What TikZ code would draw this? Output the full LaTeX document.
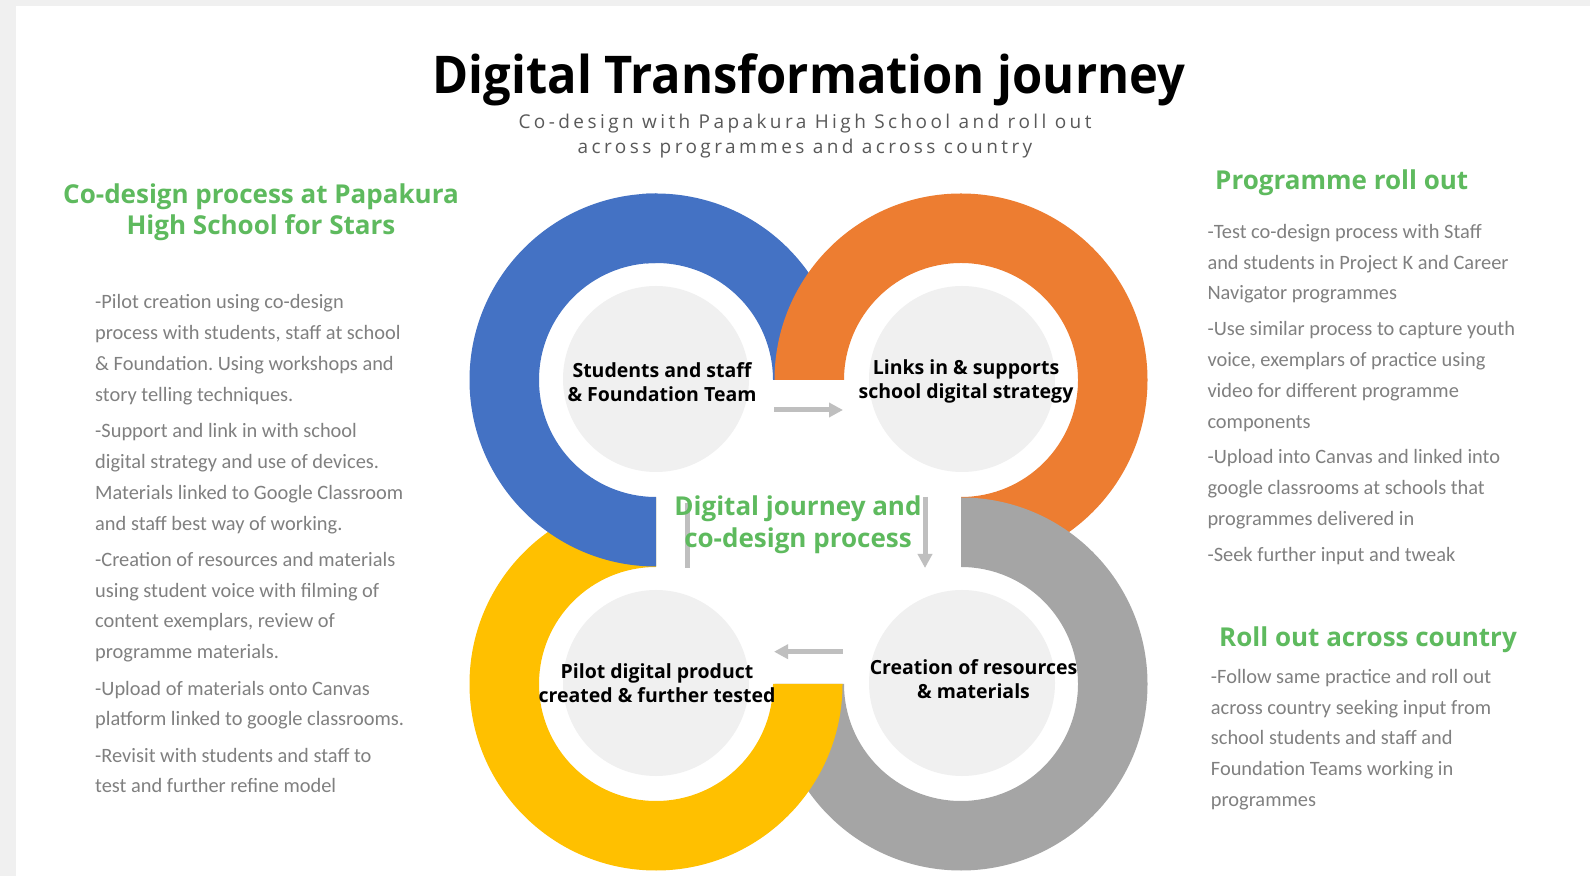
\documentclass[tikz,border=0pt]{standalone}
\usepackage{fontspec}
\setmainfont{Carlito}
\newfontfamily\headsans{Open Sans}
\newfontfamily\titlesans[FakeStretch=0.94]{Open Sans}
\newfontfamily\subsans[LetterSpace=18]{Open Sans}
\usetikzlibrary{arrows.meta,calc}
\frenchspacing

\definecolor{pageedge}{HTML}{F0F0F0}
\definecolor{ringblue}{HTML}{4472C4}
\definecolor{ringorange}{HTML}{ED7D31}
\definecolor{ringgray}{HTML}{A5A5A5}
\definecolor{ringyellow}{HTML}{FFC000}
\definecolor{diskgray}{HTML}{F0F0F0}
\definecolor{arrowgray}{HTML}{BFBFBF}
\definecolor{headgreen}{RGB}{94,186,94}
\definecolor{bodygray}{HTML}{808080}
\definecolor{subgray}{HTML}{595959}

% annular sector: centre, start angle, end angle, colour
\newcommand\ringsector[4]{%
  \fill[#4] ([shift={(#2:186.5bp)}]#1) arc[start angle=#2,end angle=#3,radius=186.5bp]
    -- ([shift={(#3:117bp)}]#1) arc[start angle=#3,end angle=#2,radius=117bp] -- cycle;}

\begin{document}
\begin{tikzpicture}[x=1bp,y=1bp,
  disk/.style={circle,fill=diskgray,minimum size=186bp,inner sep=0pt},
  flow/.style={draw=arrowgray,line width=5bp,-{Triangle[length=14bp,width=14bp]}},
  flowline/.style={draw=arrowgray,line width=5bp},
  steplabel/.style={font=\headsans\bfseries\fontsize{19.5bp}{24bp}\selectfont,
    inner sep=0pt,anchor=base,text=black},
  greenhead/.style={font=\headsans\bfseries\fontsize{26bp}{31.7bp}\selectfont,
    text=headgreen,inner sep=0pt},
  bodytext/.style={font=\fontsize{20.4bp}{30.8bp}\selectfont,
    text=bodygray,inner sep=0pt,anchor=base west},
]
\useasboundingbox (0,0) rectangle (1590,876);
\fill[pageedge] (0,0) rectangle (1590,876);
\fill[white] (16,0) rectangle (1590,870);

% ring centres
\coordinate (cB) at (656,496);
\coordinate (cO) at (961,496);
\coordinate (cY) at (656,192);
\coordinate (cG) at (961,192);

% interlocking rings (blue split in two so each ring tucks under the next)
\ringsector{cB}{0}{95}{ringblue}
\ringsector{cO}{-90}{180}{ringorange}
\ringsector{cG}{-180}{90}{ringgray}
\ringsector{cY}{90}{360}{ringyellow}
\ringsector{cB}{90}{270}{ringblue}

% inner discs
\node[disk] (dB) at (656,497) {};
\node[disk] (dO) at (962,497) {};
\node[disk] (dY) at (656,193) {};
\node[disk] (dG) at (962,193) {};

% flow arrows between the stages
\coordinate (f1s) at (774,466);   \coordinate (f1e) at (843,466);
\coordinate (f2s) at (925,379);   \coordinate (f2e) at (925,308);
\coordinate (f3s) at (842.7,224.3); \coordinate (f3e) at (774,224.3);
\coordinate (f4s) at (687,308);   \coordinate (f4e) at (687,373);
\draw[flow] (f1s) -- (f1e);
\draw[flow] (f2s) -- (f2e);
\draw[flow] (f3s) -- (f3e);
\draw[flowline] (f4s) -- (f4e);

% stage labels
\node[steplabel] (lB) at (662,498.3) {\begin{tabular}[t]{@{}c@{}}Students and staff\\ \& Foundation Team\end{tabular}};
\node[steplabel] (lO) at (966,501.5) {\begin{tabular}[t]{@{}c@{}}Links in \& supports\\ school digital strategy\end{tabular}};
\node[steplabel] (lY) at (657,197.1) {\begin{tabular}[t]{@{}c@{}}Pilot digital product\\ created \& further tested\end{tabular}};
\node[steplabel] (lG) at (973.5,201.2) {\begin{tabular}[t]{@{}c@{}}Creation of resources\\ \& materials\end{tabular}};

% centre caption
\node[greenhead,anchor=base] (centre) at (798,360.3) {\begin{tabular}[t]{@{}c@{}}Digital journey and\\ co-design process\end{tabular}};

% title and subtitle
\node[font=\titlesans\bfseries\fontsize{52bp}{60bp}\selectfont,inner sep=0pt,anchor=base] (title) at (809,782) {Digital Transformation journey};
\node[font=\subsans\fontsize{19bp}{25bp}\selectfont,text=subgray,inner sep=0pt,anchor=base] (subtitle) at (805,747.7)
  {\begin{tabular}[t]{@{}c@{}}Co-design with Papakura High School and roll out\\ across programmes and across country\end{tabular}};

% left column
\node[greenhead,anchor=base] (hleft) at (261,672.7) {\begin{tabular}[t]{@{}c@{}}Co-design process at Papakura\\ High School for Stars\end{tabular}};
\node[bodytext] (bleft) at (95,567) {\begin{tabular}[t]{@{}l@{}}
-Pilot creation using co-design\\
process with students, staff at school\\
\& Foundation. Using workshops and\\
story telling techniques.\\[5.5bp]
-Support and link in with school\\
digital strategy and use of devices.\\
Materials linked to Google Classroom\\
and staff best way of working.\\[5.5bp]
-Creation of resources and materials\\
using student voice with filming of\\
content exemplars, review of\\
programme materials.\\[5.5bp]
-Upload of materials onto Canvas\\
platform linked to google classrooms.\\[5.5bp]
-Revisit with students and staff to\\
test and further refine model
\end{tabular}};

% right column
\node[greenhead,anchor=base west] (hright) at (1215,686) {Programme roll out};
\node[bodytext] (bright) at (1207.3,637.7) {\begin{tabular}[t]{@{}l@{}}
-Test co-design process with Staff\\
and students in Project K and Career\\
Navigator programmes\\[5bp]
-Use similar process to capture youth\\
voice, exemplars of practice using\\
video for different programme\\
components\\[5bp]
-Upload into Canvas and linked into\\
google classrooms at schools that\\
programmes delivered in\\[5bp]
-Seek further input and tweak
\end{tabular}};

\node[greenhead,anchor=base west] (hcountry) at (1219,229.3) {Roll out across country};
\node[bodytext] (bcountry) at (1210.7,192.7) {\begin{tabular}[t]{@{}l@{}}
-Follow same practice and roll out\\
across country seeking input from\\
school students and staff and\\
Foundation Teams working in\\
programmes
\end{tabular}};
\end{tikzpicture}
\end{document}
